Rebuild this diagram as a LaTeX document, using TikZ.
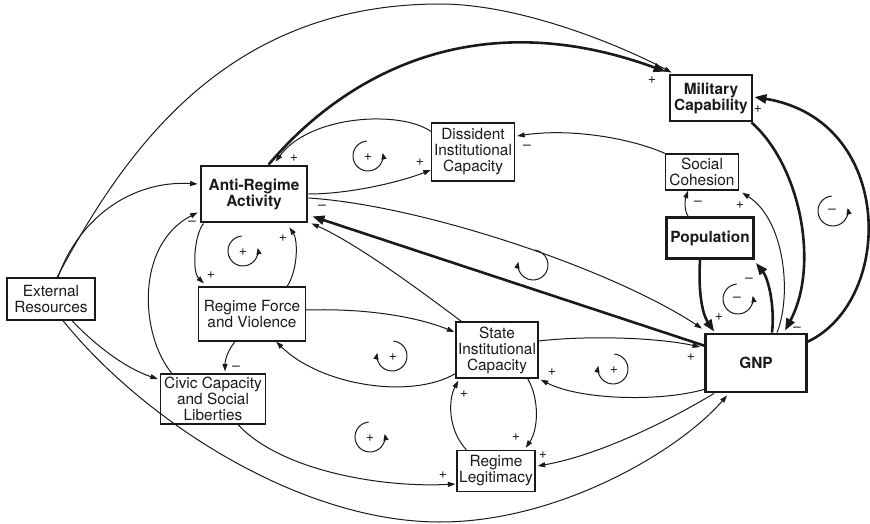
\documentclass[tikz,border=0pt]{standalone}
\usepackage{fontspec}
\setmainfont{TeX Gyre Heros}
\usetikzlibrary{arrows.meta,calc}
\definecolor{ink}{HTML}{1A1A1A}
\tikzset{
  loopccw/.pic={\draw[ink, line width=1pt, -{Triangle[length=6.5pt,width=5pt]}, x=1pt, y=1pt]
      (95:15) arc[start angle=95, end angle=372, radius=15];},
  loopcw/.pic={\draw[ink, line width=1pt, -{Triangle[length=6.5pt,width=5pt]}, x=1pt, y=1pt]
      (85:15) arc[start angle=85, end angle=-192, radius=15];}
}
\begin{document}
\begin{tikzpicture}[x=1pt,y=-1pt,
  box/.style={draw=ink, line width=1.3pt, align=center, inner sep=1pt, text=ink,
    font=\fontsize{15.4}{16}\selectfont},
  keybox/.style={box, line width=2.8pt, font=\fontsize{15.4}{16}\selectfont\bfseries},
  link/.style={draw=ink, line width=1pt, -{Triangle[length=7.5pt,width=5pt]}},
  heavy/.style={draw=ink, line width=2.6pt, -{Triangle[length=12pt,width=9pt]}},
  sign/.style={text=ink, inner sep=0pt, font=\fontsize{14}{14}\selectfont},
]
\useasboundingbox (0,0) rectangle (870,524);

% variables
\node[box, minimum width=88pt, minimum height=42pt] (ext) at (51,299) {External\\Resources};
\node[keybox, minimum width=106pt, minimum height=56pt] (ar) at (254,194) {Anti-Regime\\Activity};
\node[box, minimum width=83pt, minimum height=58pt] (dic) at (473,152) {Dissident\\Institutional\\Capacity};
\node[keybox, minimum width=82pt, minimum height=46pt] (mil) at (711,98) {Military\\Capability};
\node[box, minimum width=73pt, minimum height=36pt] (soc) at (702,172) {Social\\Cohesion};
\node[keybox, minimum width=87pt, minimum height=41pt] (pop) at (710,238) {Population};
\node[keybox, minimum width=101pt, minimum height=58pt] (gnp) at (756,363) {GNP};
\node[box, minimum width=107pt, minimum height=54pt] (rfv) at (252,314) {Regime Force\\and Violence};
\node[box, minimum width=105pt, minimum height=50pt] (civ) at (213,399) {Civic Capacity\\and Social\\Liberties};
\node[box, minimum width=82pt, minimum height=56pt] (sic) at (497,350) {State\\Institutional\\Capacity};
\node[box, minimum width=78pt, minimum height=41pt] (leg) at (496,471) {Regime\\Legitimacy};

% outer arcs from External Resources
\coordinate (topArc) at (440,4);
\coordinate (bottomArc) at (440,522);
\draw[link] ($(ext.north)+(6,0)$) .. controls (127,146) and (229,4) .. (topArc)
  .. controls (520,4) and (620,45) .. ($(mil.north west)+(3,-1)$);
\draw[link] ($(ext.north)+(7,0)$) .. controls (78,220) and (130,180) .. ($(ar.west)+(-2,-10)$);
\draw[link] ($(ext.south)+(21,0)$) .. controls (95,345) and (125,368) .. ($(civ.west)+(-2,-20)$);
\draw[link] ($(ext.south)+(12,0)$) .. controls (144,421) and (300,522) .. (bottomArc)
  .. controls (560,522) and (680,450) .. ($(gnp.south west)+(23,2)$);

% Anti-Regime Activity and the dissident side
\draw[heavy] ($(ar.north west)+(69,0)$) .. controls (340,80) and (470,0) .. ($(mil.north west)+(-3,-2)$);
\draw[link] ($(dic.north west)+(0,9)$) .. controls (400,110) and (310,115) .. ($(ar.north west)+(76,-3)$);
\draw[link] (ar.east) .. controls (350,194) and (400,182) .. ($(dic.west)+(0,18)$);
\draw[link] (soc.north west) .. controls (630,138) and (570,128) .. ($(dic.east)+(2,-16)$);

% military, population and GNP
\draw[heavy] ($(mil.south east)+(-2,0)$) .. controls (800,165) and (820,265) .. ($(gnp.north)+(29,-2)$);
\draw[heavy] ($(gnp.north east)+(0,9)$) .. controls (895,300) and (895,120) .. ($(mil.east)+(1,-1)$);
\draw[link] ($(pop.north)+(-22,0)$) .. controls (684,210) and (685,200) .. ($(soc.south)+(-14,0)$);
\draw[link] ($(gnp.north)+(21,0)$) .. controls (792,295) and (785,220) .. ($(soc.south east)+(3,2)$);
\draw[heavy] ($(pop.south)+(-10,0)$) .. controls (698,295) and (703,315) .. ($(gnp.north west)+(10,-1)$);
\draw[heavy] ($(gnp.north)+(16,0)$) .. controls (775,305) and (768,278) .. ($(pop.south east)+(1,3)$);

% long links across the middle
\draw[link] ($(ar.east)+(0,4)$) .. controls (420,205) and (610,268) .. ($(gnp.north west)+(-2,-4)$);
\draw[heavy] ($(gnp.north west)+(0,13)$) -- ($(ar.south east)+(4,-7)$);
\draw[link] ($(sic.north west)+(6,0)$) .. controls (430,298) and (360,245) .. ($(ar.south east)+(3,0)$);
\draw[link] ($(sic.east)+(0,-9)$) .. controls (590,335) and (660,338) .. ($(gnp.west)+(-4,-16)$);
\draw[link] ($(gnp.south west)+(0,-4)$) .. controls (660,402) and (580,400) .. ($(sic.south east)+(2,1)$);
\draw[link] ($(gnp.south west)+(10,0)$) .. controls (670,420) and (600,455) .. ($(leg.east)+(2,-5)$);

% regime side
\draw[link] ($(civ.north west)+(12,0)$) .. controls (140,335) and (135,245) .. ($(ar.south west)+(-2,-11)$);
\draw[link] ($(ar.south west)+(4,0)$) .. controls (194,235) and (192,272) .. ($(rfv.north west)+(6,-3)$);
\draw[link] ($(rfv.north east)+(-19,0)$) .. controls (298,270) and (298,240) .. ($(ar.south east)+(-19,4)$);
\draw[link] ($(rfv.south)+(-17,0)$) .. controls (228,350) and (225,360) .. ($(civ.north)+(12,-2)$);
\draw[link] ($(rfv.east)+(0,-4)$) .. controls (370,308) and (420,318) .. ($(sic.west)+(-1,-18)$);
\draw[link] ($(sic.south west)+(0,-5)$) .. controls (410,400) and (320,385) .. ($(rfv.south east)+(-30,0)$);
\draw[link] ($(sic.south east)+(-11,0)$) .. controls (540,400) and (538,430) .. ($(leg.north east)+(-10,-2)$);
\draw[link] ($(leg.north west)+(10,0)$) .. controls (448,430) and (448,400) .. ($(sic.south west)+(3,2)$);
\draw[link] ($(civ.south)+(25,0)$) .. controls (280,470) and (380,488) .. ($(leg.west)+(-1,13)$);

% polarity of each link
\node[sign] (s1) at (652,80) {+};
\node[sign] (s2) at (758,109) {+};
\node[sign] (s3) at (294,158) {+};
\node[sign] (s4) at (420,162) {+};
\node[sign] (s5) at (527,147) {–};
\node[sign] (s6) at (698,203) {–};
\node[sign] (s7) at (740,205) {+};
\node[sign] (s8) at (749,280) {–};
\node[sign] (s9) at (719,317) {+};
\node[sign] (s10) at (797,329) {–};
\node[sign] (s11) at (322,207) {–};
\node[sign] (s12) at (192,223) {–};
\node[sign] (s13) at (211,275) {+};
\node[sign] (s14) at (283,238) {+};
\node[sign] (s15) at (236,368) {–};
\node[sign] (s16) at (691,357) {+};
\node[sign] (s17) at (552,372) {+};
\node[sign] (s18) at (543,455) {+};
\node[sign] (s19) at (516,437) {+};
\node[sign] (s20) at (464,394) {+};
\node[sign] (s21) at (443,475) {+};

% feedback loop markers
\pic (lp1) at (368,156) {loopccw};
\node[sign] (l1) at (368,157) {+};
\pic (lp2) at (243,251) {loopccw};
\node[sign] (l2) at (243,252) {+};
\pic (lp3) at (833,211) {loopccw};
\node[sign] (l3) at (832,211) {–};
\pic (lp4) at (738,299) {loopccw};
\node[sign] (l4) at (737,299) {–};
\pic (lp5) at (533,265) {loopcw};
\pic (lp6) at (392,356) {loopcw};
\node[sign] (l6) at (393,357) {+};
\pic (lp7) at (613,369) {loopcw};
\node[sign] (l7) at (614,370) {+};
\pic (lp8) at (370,437) {loopccw};
\node[sign] (l8) at (370,438) {+};
\end{tikzpicture}
\end{document}
